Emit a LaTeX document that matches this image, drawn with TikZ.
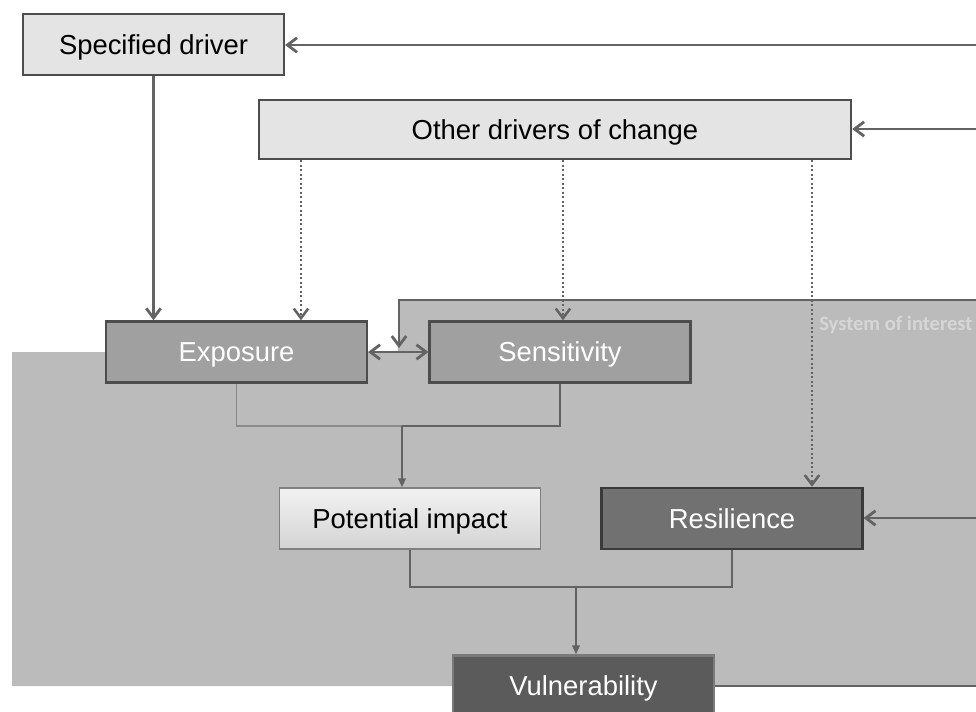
\documentclass[tikz,border=0pt]{standalone}
\usepackage{fontspec}
\setmainfont{Liberation Sans}
\newfontfamily\soifont{Carlito}
\usetikzlibrary{arrows.meta}

\definecolor{boxline}{HTML}{4D4D4D}
\definecolor{darkline}{HTML}{3A3A3A}
\definecolor{lightfill}{HTML}{E4E4E4}
\definecolor{midfill}{HTML}{A0A0A0}
\definecolor{darkfill}{HTML}{717171}
\definecolor{vulnfill}{HTML}{5B5B5B}
\definecolor{vulnline}{HTML}{7A7A7A}
\definecolor{potline}{HTML}{808080}
\definecolor{pottop}{HTML}{F2F2F2}
\definecolor{potbot}{HTML}{D4D4D4}
\definecolor{areafill}{HTML}{BBBBBB}
\definecolor{linegray}{HTML}{636363}
\definecolor{thingray}{HTML}{8A8A8A}
\definecolor{soitext}{HTML}{D6D6D6}

\begin{document}
\begin{tikzpicture}[
    x=0.025cm, y=-0.025cm,
    >={Straight Barb[length=2.4mm, width=3.6mm]},
    every node/.style={inner sep=0pt, font=\fontsize{19.5}{23}\selectfont,
        text height=14pt, text depth=0pt},
    box/.style={draw=boxline, line width=1.6pt, minimum width=6.52cm, minimum height=1.53cm},
    lightbox/.style={box, fill=lightfill},
    midbox/.style={box, fill=midfill, text=white},
    darkbox/.style={box, draw=darkline, fill=darkfill, text=white},
    link/.style={draw=linegray, line width=2pt, ->},
    hint/.style={link, dash pattern=on 1.6pt off 1.6pt, line width=1.8pt},
    merge/.style={draw=linegray, line width=1.2pt},
    feed/.style={merge, -{Triangle[length=2.2mm, width=1.9mm]}}
]
    \clip (0,0) rectangle (976,712);

    % system of interest
    \fill[areafill] (12,352) -- (398,352) -- (398,300) -- (976,300)
        -- (976,686) -- (12,686) -- cycle;
    \node[anchor=base west, text=soitext, text height=, text depth=,
        font=\soifont\bfseries\fontsize{14.6}{17}\selectfont]
        (soi) at (819,330) {System of interest};

    \node[lightbox] (spec) at (153.5,44.5) {Specified driver};
    \node[lightbox, minimum width=14.8cm, minimum height=1.48cm] (other) at (555,129.5) {Other drivers of change};
    \node[midbox] (expo) at (236.5,352) {Exposure};
    \node[midbox] (sens) at (560,352) {Sensitivity};
    \node[box, draw=potline, line width=1pt, top color=pottop, bottom color=potbot] (pot) at (410,518.5) {Potential impact};
    \node[darkbox] (resil) at (732,518.5) {Resilience};
    \node[darkbox, fill=vulnfill, draw=vulnline] (vuln) at (583.5,686) {Vulnerability};

    % loose ends at the right edge
    \coordinate (inspec) at (976,45);
    \coordinate (inother) at (976,129);
    \coordinate (inresil) at (976,518);
    \coordinate (outvuln) at (976,686);
    \coordinate (sysin) at (976,300);
    \coordinate (sysdrop) at (399,348);

    \draw[link] (inspec) -- (inspec -| spec.east);
    \draw[link] (inother) -- (inother -| other.east);
    \draw[link] (inresil) -- (inresil -| resil.east);
    \draw[link] (sysin) -| (sysdrop);
    \draw[merge, line width=1.6pt] (vuln.east) -- (outvuln);

    \draw[link] (spec.south) -- (spec.south |- expo.north);
    \draw[link, <->] (expo.east) -- (sens.west);

    % other drivers
    \coordinate (d1) at (301,0);
    \coordinate (d2) at (563,0);
    \coordinate (d3) at (812,0);
    \draw[hint] (other.south -| d1) -- (expo.north -| d1);
    \draw[hint] (other.south -| d2) -- (sens.north -| d2);
    \draw[hint] (other.south -| d3) -- (resil.north -| d3);

    % combining
    \coordinate (j1) at (402,426);
    \coordinate (j2) at (576,587);
    \draw[merge, draw=thingray, line width=0.9pt] (expo.south) |- (j1);
    \draw[merge] (sens.south) |- (j1);
    \draw[feed] (j1) -- (j1 |- pot.north);
    \draw[merge] (pot.south) |- (resil.south |- j2) -- (resil.south);
    \draw[feed] (j2) -- (j2 |- vuln.north);
\end{tikzpicture}
\end{document}
